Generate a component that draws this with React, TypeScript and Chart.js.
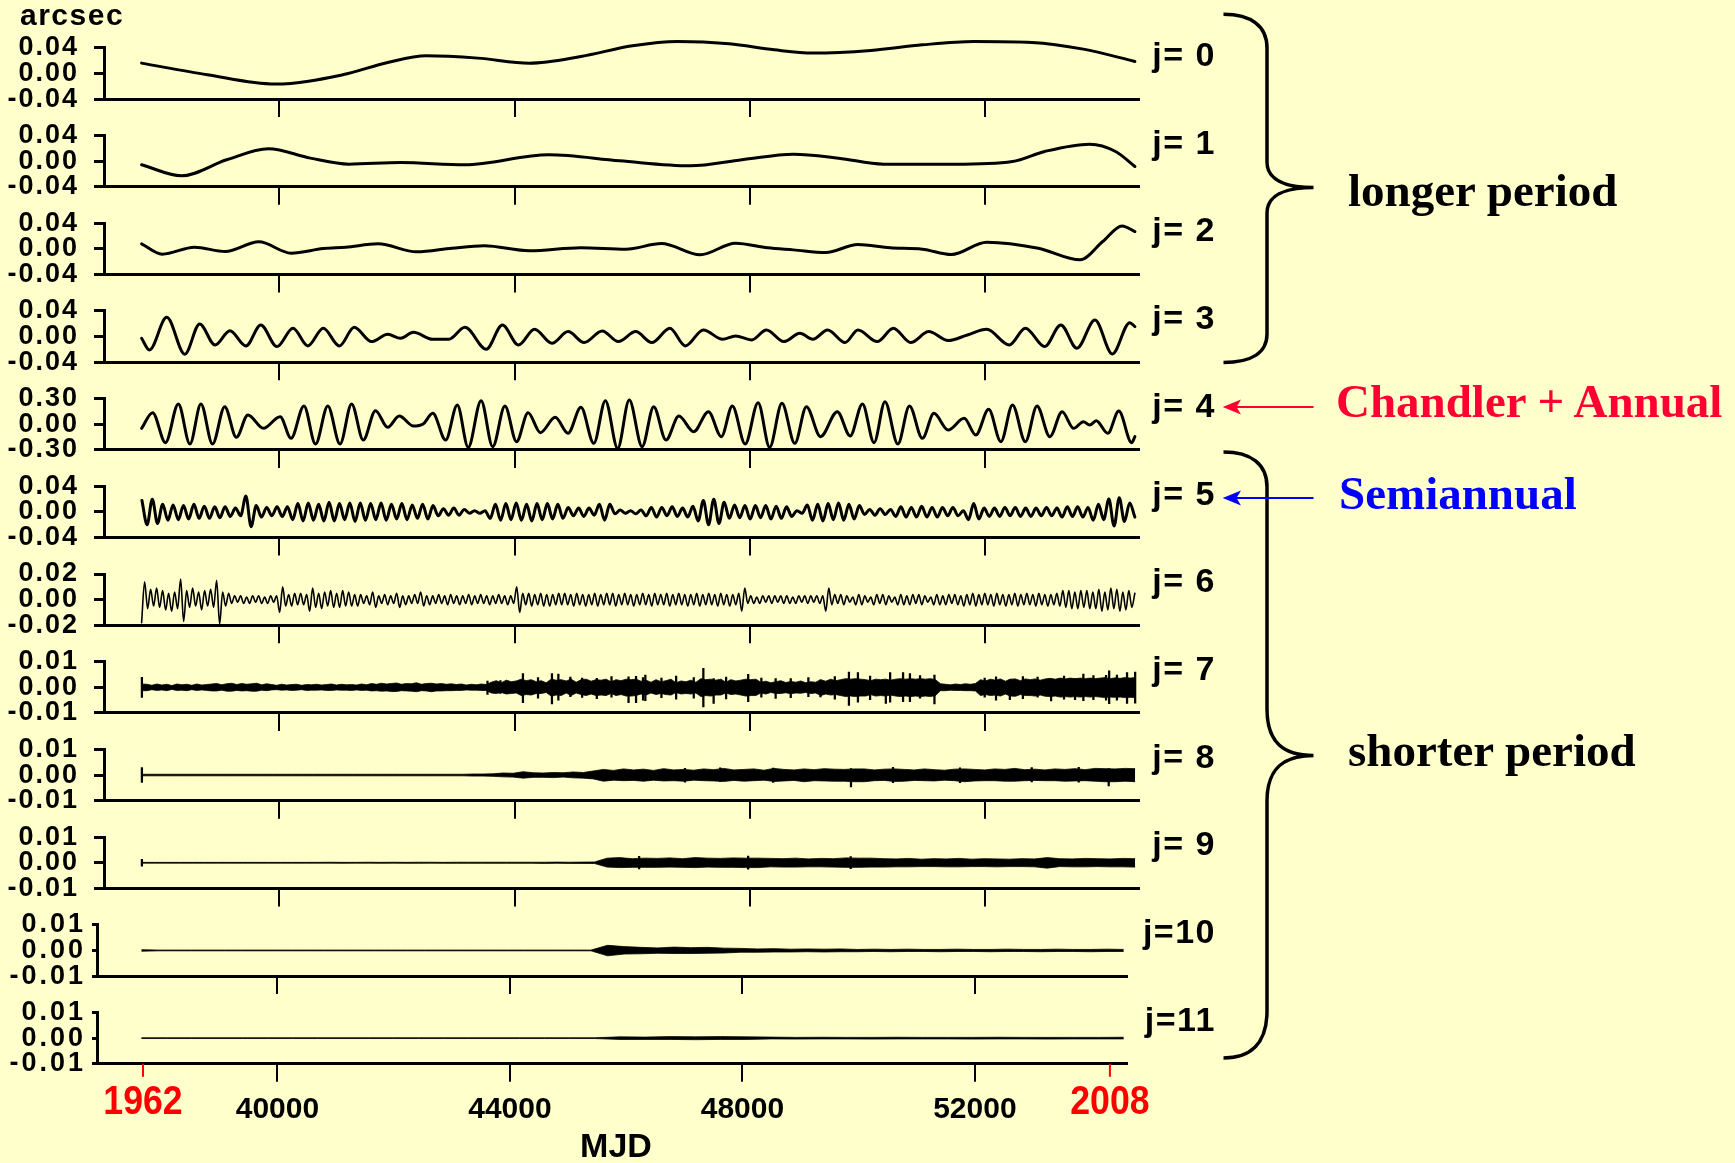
import React, { useEffect, useRef } from 'react';
import { Chart, registerables } from 'chart.js';

Chart.register(...registerables);

const PAGE_W = 1735;
const PAGE_H = 1163;
const BG = '#FFFFCC';
const SANS = "'Liberation Sans', Arial, Helvetica, sans-serif";
const SERIF = "'Liberation Serif', 'Times New Roman', Times, serif";
Chart.defaults.font.family = SANS;

// ---------------- axis content ----------------
const X_TICKS = [40000, 44000, 48000, 52000];
const X_TITLE = 'MJD';
const YEAR_MARKS = [
  { mjd: 37686, label: '1962' },
  { mjd: 54323, label: '2008' },
];
const PANEL_NAMES = ['j= 0', 'j= 1', 'j= 2', 'j= 3', 'j= 4', 'j= 5', 'j= 6', 'j= 7', 'j= 8', 'j= 9', 'j=10', 'j=11'];
const Y_LIMITS = [0.04, 0.04, 0.04, 0.04, 0.3, 0.04, 0.02, 0.01, 0.01, 0.01, 0.01, 0.01];
const MAS = 0.001; // values below are in milliarcseconds

// ---------------- series (values in mas) ----------------
const J0_MJD = [37655, 38773, 39924, 41075, 41842, 42500, 43376, 44253, 45130, 46007, 46774, 47651, 48418, 49076, 50062, 50939, 51816, 52802, 53679, 54556];
const J0_VAL = [16.1, -2.1, -16.6, -2.1, 17.1, 27.5, 23.9, 16.1, 26.5, 43.1, 49.8, 46.2, 36.8, 31.7, 35.8, 44.6, 49.8, 48.3, 37.9, 18.7];

const J1_MJD = [37655, 38335, 39102, 39814, 40527, 41184, 42061, 43157, 44582, 45788, 46993, 47870, 48747, 49514, 50281, 51487, 52473, 53021, 53788, 54227, 54556];
const J1_VAL = [-5.7, -22.8, 2.1, 19.2, 4.7, -4.7, -2.1, -5.7, 9.9, 0.5, -7.3, 2.1, 10.9, 4.7, -4.7, -4.7, -0.5, 15.1, 26.5, 15.1, -8.3];

const J2_MJD = [37655, 38006, 38554, 39080, 39650, 40198, 40746, 41130, 41678, 42335, 42938, 43486, 44253, 45130, 45897, 46500, 47158, 47760, 48308, 48747, 49295, 49843, 50391, 50939, 51432, 52035, 52912, 53624, 54008, 54337, 54556];
const J2_VAL = [7.8, -8.3, 2.6, -4.2, 10.9, -6.7, 0.5, 2.6, 7.8, -4.7, 1.0, 4.7, -3.1, 1.6, -0.5, 8.3, -9.3, 8.8, 1.6, -1.6, -5.7, 6.7, 1.6, -0.5, -8.8, 10.4, 1.0, -17.1, 11.4, 35.8, 27.0];

const J3_MJD = [37655, 37787, 38083, 38390, 38642, 38905, 39157, 39431, 39683, 39957, 40231, 40483, 40746, 41020, 41272, 41568, 41842, 42061, 42280, 42609, 42883, 43157, 43519, 43793, 44067, 44341, 44637, 44911, 45185, 45492, 45766, 46062, 46336, 46643, 46906, 47212, 47541, 47760, 48034, 48286, 48582, 48856, 49076, 49328, 49624, 49843, 50172, 50446, 50742, 51048, 51377, 51706, 52035, 52418, 52692, 53021, 53295, 53569, 53876, 54172, 54468, 54556];
const J3_VAL = [-2.7, -20.9, 30.0, -27.6, 19.6, -13.1, 9.2, -14.6, 18.1, -15.7, 12.9, -14.6, 12.9, -14.6, 14.4, -7.9, 3.5, -2.7, 6.6, -4.3, -4.3, 14.4, -19.8, 18.1, -13.1, 11.3, -10.5, 7.7, -9.4, 8.7, -7.9, 7.7, -9.4, 12.9, -14.6, 10.3, -4.3, 0.9, -5.3, 10.3, -7.9, 5.1, -4.3, 10.3, -9.4, 10.3, -7.9, 12.9, -9.4, 7.7, -6.3, 2.5, 11.3, -13.1, 12.9, -15.7, 18.1, -18.3, 25.8, -27.1, 21.7, 15.5];

const J4_MJD = [37655, 37842, 38061, 38280, 38477, 38664, 38861, 39069, 39266, 39464, 39727, 40012, 40198, 40417, 40614, 40823, 41031, 41228, 41426, 41634, 41842, 42039, 42280, 42445, 42609, 42828, 43026, 43212, 43431, 43629, 43837, 44034, 44231, 44440, 44692, 44911, 45130, 45349, 45546, 45755, 45952, 46171, 46368, 46577, 46796, 47048, 47300, 47519, 47706, 47925, 48144, 48341, 48550, 48769, 48966, 49207, 49492, 49711, 49920, 50117, 50303, 50522, 50720, 50939, 51136, 51377, 51651, 51848, 52068, 52276, 52473, 52692, 52890, 53109, 53317, 53514, 53679, 53788, 53898, 54095, 54282, 54501, 54556];
const J4_VAL = [-48, 135, -215, 237, -231, 237, -231, 206, -153, 108, -48, 89, -165, 213, -231, 213, -231, 237, -184, 159, -36, 96, -21, 3, 128, -184, 225, -270, 276, -262, 213, -204, 135, -98, 81, -106, 198, -223, 276, -282, 283, -262, 206, -184, 96, -87, 147, -145, 213, -231, 252, -270, 245, -223, 206, -145, 147, -137, 237, -215, 264, -231, 213, -165, 128, -67, 69, -126, 174, -204, 225, -204, 213, -145, 147, -48, 30, -9, 42, -106, 155, -215, -145];

// j=5 semiannual: successive extrema, evenly spaced in time
const J5_START = 37660;
const J5_END = 54555;
const J5_VAL = [
  18, -20, 20, -18,
  12, -13, 11, -12, 10, -11, 12, -10, 9, -10, 8, -9, 8,
  -7, 6, -6,
  25, -23,
  10, -8, 7, -6, 8, -7, 8,
  -12, 13, -14, 14, -13, 12, -14, 15, -14, 13, -12, 14, -15, 14, -13,
  13, -12, 14, -13, 12, -11, 13, -12, 11, -10, 12, -11, 10,
  -6, 5, -5, 6, -5, 4,
  -2, 2, -2, 2,
  -10, 12, -13, 13, -12, 14, -13, 12, -14, 13, -12, 13, -11, 12, -10,
  7, -6, 6, -7, 6, -5,
  12, -13, 12,
  -3, 3, -2, 2, -3, 3,
  -6, 7, -8, 7, -6, 8, -7, 6, -8, 9,
  -14, 18, -20, 20, -18, 15,
  -10, 11, -9, 10, -11, 10, -9, 10, -11, 9, -10, 8, -7,
  2, -2,
  11, -13, 12, -14, 13, -12, 14, -13, 12, -11, 10,
  -4, 4, -5, 5, -4, 4,
  -7, 8, -8, 7, -8, 9, -8, 7, -8, 7, -6, 7, -6,
  2,
  -12, 13, -11,
  6, -7, 6, -7, 7, -6, 7, -7, 6, -7, 6, -6, 7, -6, 6,
  -8, 8, -7, 8, -8, 7,
  -13, 12, -12,
  20, -22, 22,
  -15, 14, -8,
];

// j=6: successive extrema, evenly spaced in time
const J6_START = 37655;
const J6_END = 54555;
const J6_VAL = [
  -18, 14,
  -7, 8, -5, 9, -6, 7, -8, 5, -9, 6, -7,
  16, -17,
  7, -6, 9, -5, 6, -8, 7, -5, 8, -6,
  15, -19,
  6, -5, 5,
  -3, 3, -2, 3, -3, 2, -3, 3, -2, 3, -3, 2, -3, 3, -2, 3,
  -10, 10,
  -5, 4, -5, 5, -4, 5, -4, 4,
  -9, 9,
  -6, 5, -7, 6, -5, 7, -6, 5, -6, 7, -5, 6, -5, 4, -5,
  4, -3, 3, -4, 6, -6, 3, -3, 4, -4, 3, -3, 5, -6, 3, -4, 3, -3, 4, -3, 6, -5, 3,
  -4, 3, -3, 4, -3, 3, -4, 4, -3, 3, -4, 3, -3, 4, -4, 3, -3, 4, -3, 3, -4, 3, -3, 4, -3, 3, -4, 3, -3,
  10, -10,
  5, -4, 5, -5, 4, -4, 5, -5, 4, -5, 4, -4, 5,
  -4, 5, -4, 4, -5, 5, -4, 4, -5, 4, -4, 5, -5, 4, -4, 5, -4, 5, -5, 4, -4, 5, -4,
  4, -5, 4, -4, 5, -4, 4, -5, 5, -4, 4, -4, 5, -5, 4, -4, 5, -4, 4, -5, 4, -4, 5, -5, 4, -4, 5, -4, 4, -5, 5, -4, 4, -5, 4, -4, 5,
  -9, 9,
  -3, 3, -3, 2, -3, 3, -2, 3, -3, 3, -2, 3, -3, 3, -3, 2, -3, 3, -2, 3, -3, 3, -2, 3, -3, 3,
  -9, 9,
  -4, 4, -3, 4, -4, 3, -2, 2, -4, 4, -4, 3, -2, 2, -4, 4, -3, 4, -4, 3, -2, 2,
  -4, 4, -4, 3, -4, 4, -3, 4, -4, 3, -2, 2, -4, 4, -4, 3, -4, 4, -3, 4, -4, 3,
  -5, 4, -4, 5, -5, 4, -4, 5, -4, 4, -5, 5, -4, 4, -5, 4, -4, 5, -5, 4, -4, 5, -4, 4, -5, 5, -4, 4, -5, 4, -4, 5, -5,
  7, -6, 7, -7, 6, -7, 7, -6, 7, -7, 6,
  -7, 8, -9, 6, -8, 9, -7, 8, -9, 6, -8, 7, -6, 5,
];

// j=7..11: upper / lower envelopes of the dense oscillation core, evenly spaced in time
const BAND_START = 37660;
const BAND_END = 54560;
const J7_UP = [
  1.3, 1.2, 0.8, 1.3, 0.9, 1.2, 0.7, 1.3, 1.0, 1.2,
  0.8, 1.3, 0.9, 1.1, 1.3, 1.5, 1.0, 1.4, 1.6, 1.1,
  1.5, 1.2, 1.4, 1.6, 1.0, 1.4, 1.1, 0.8, 1.2, 0.9,
  1.1, 1.2, 0.8, 1.1, 1.0, 1.2, 0.9, 1.1, 1.3, 0.9,
  1.2, 1.0, 1.1, 0.9, 1.3, 1.0, 1.5, 1.2, 1.6, 1.3,
  1.5, 1.7, 1.2, 1.5, 1.4, 1.8, 1.2, 1.5, 1.6, 1.3,
  1.5, 1.2, 1.4, 1.1, 1.3, 0.9, 1.2, 1.0, 1.3, 1.1,
  2.0, 2.6, 1.8, 2.8, 2.2, 2.5, 3.2, 2.6, 3.0, 2.2,
  2.6, 1.8, 3.2, 2.8, 3.0, 2.5, 3.2, 2.0, 3.0, 3.2,
  2.4, 3.0, 2.8, 3.2, 2.2, 3.0, 2.6, 3.2, 3.0, 3.2,
  2.4, 2.8, 2.0, 3.0, 2.2, 2.6, 3.2, 1.8, 2.5, 2.2,
  2.8, 2.0, 3.4, 3.0, 3.2, 2.8, 3.2, 2.0, 3.0, 2.5,
  2.8, 3.2, 3.0, 3.2, 2.0, 2.4, 1.8, 2.2, 2.6, 1.9,
  2.3, 2.0, 2.5, 1.8, 2.2, 2.0, 3.0, 2.4, 3.2, 2.6,
  3.0, 3.4, 3.2, 3.4, 3.2, 3.0, 2.6, 3.2, 3.0, 3.2,
  2.8, 3.2, 3.4, 3.2, 3.4, 3.2, 3.4, 3.2, 3.4, 3.0,
  1.4, 1.2, 1.0, 1.3, 1.1, 1.4, 1.2, 1.5, 3.0, 2.5,
  3.2, 2.8, 3.3, 2.4, 3.2, 3.3, 2.6, 3.3, 3.0, 3.3,
  2.8, 3.3, 3.5, 3.2, 3.6, 3.3, 3.6, 3.4, 3.6, 3.4,
  3.6, 3.4, 3.6, 3.8, 3.4, 3.7, 3.5, 3.8, 3.6, 3.8,
];
const J7_LO = [
  -1.3, -1.3, -0.9, -1.2, -1.0, -1.3, -0.8, -1.2, -1.1, -1.3,
  -0.9, -1.2, -1.0, -1.2, -1.4, -1.4, -1.1, -1.5, -1.5, -1.2,
  -1.4, -1.3, -1.5, -1.5, -1.1, -1.3, -1.0, -0.9, -1.1, -1.0,
  -1.2, -1.1, -0.9, -1.2, -1.1, -1.1, -1.0, -1.2, -1.2, -1.0,
  -1.1, -1.1, -1.2, -1.0, -1.2, -1.1, -1.4, -1.3, -1.5, -1.4,
  -1.6, -1.6, -1.3, -1.4, -1.5, -1.7, -1.3, -1.4, -1.7, -1.4,
  -1.4, -1.3, -1.3, -1.2, -1.2, -1.0, -1.1, -1.1, -1.2, -1.2,
  -2.2, -2.4, -2.0, -2.6, -2.4, -2.2, -3.2, -2.8, -3.0, -2.4,
  -2.4, -2.0, -3.4, -3.0, -3.2, -2.2, -3.2, -2.2, -2.8, -3.2,
  -2.6, -3.2, -3.0, -3.2, -2.4, -3.2, -2.8, -3.4, -3.4, -3.2,
  -2.6, -3.0, -2.2, -2.8, -2.4, -2.8, -3.0, -2.0, -2.6, -2.4,
  -2.6, -2.2, -3.6, -3.2, -3.4, -3.0, -3.0, -2.2, -2.8, -2.6,
  -3.0, -3.4, -3.2, -3.2, -2.2, -2.6, -2.0, -2.4, -2.4, -2.1,
  -2.5, -2.2, -2.3, -2.0, -2.4, -2.2, -3.2, -2.6, -3.0, -2.8,
  -3.2, -3.6, -3.4, -3.6, -3.4, -3.4, -2.8, -3.4, -3.2, -3.4,
  -3.0, -3.4, -3.6, -3.4, -3.6, -3.4, -3.6, -3.4, -3.6, -3.2,
  -1.3, -1.3, -1.1, -1.2, -1.2, -1.3, -1.3, -1.4, -3.2, -2.8,
  -3.2, -3.0, -3.4, -2.6, -3.4, -3.5, -2.8, -3.2, -3.2, -3.4,
  -3.0, -3.5, -3.6, -3.4, -3.8, -3.6, -3.8, -3.6, -3.8, -3.6,
  -3.8, -3.6, -3.8, -4.0, -3.8, -3.9, -3.8, -4.0, -3.9, -4.0,
];
// isolated spikes of j=7 (time, top, bottom)
const J7_SPIKE_MJD = [37660, 43540, 43760, 44143, 44400, 44637, 44746, 44950, 45150, 45400, 45650, 45940, 46068, 46187, 46226, 46500, 46750, 47050, 47213, 47388, 47600, 47976, 48200, 48443, 48700, 49000, 49205, 49450, 49690, 49843, 50050, 50318, 50391, 50611, 50728, 50900, 51145, 52000, 52193, 52428, 52650, 52900, 53130, 53350, 53537, 53679, 53850, 54065, 54118, 54250, 54422, 54560];
const J7_SPIKE_TOP = [3.9, 2.4, 2.6, 5.4, 3.8, 5.4, 5.2, 4.0, 3.6, 3.5, 4.2, 4.1, 4.3, 3.8, 4.8, 3.6, 4.4, 3.8, 7.4, 3.4, 4.0, 5.1, 3.6, 3.4, 3.4, 3.8, 2.8, 4.2, 6.0, 5.8, 4.4, 2.8, 5.8, 5.8, 5.4, 4.6, 4.8, 3.6, 4.1, 3.0, 4.2, 4.0, 3.0, 4.4, 3.4, 5.2, 4.6, 4.7, 6.4, 4.8, 5.8, 6.0];
const J7_SPIKE_BOT = [-3.9, -2.8, -2.4, -6.0, -4.2, -6.5, -5.0, -3.6, -3.9, -4.4, -3.8, -6.0, -6.0, -5.0, -5.2, -4.0, -4.6, -4.2, -7.6, -6.3, -4.5, -5.6, -3.8, -4.3, -4.0, -3.6, -3.7, -4.6, -7.0, -5.8, -4.8, -6.3, -5.8, -5.6, -5.6, -4.2, -6.5, -3.8, -5.0, -4.8, -4.4, -3.8, -5.3, -4.6, -4.8, -5.2, -4.8, -5.0, -6.4, -5.0, -6.3, -6.2];

const J8_UP = [
  0.3, 0.3, 0.3, 0.3, 0.3, 0.3, 0.3, 0.3, 0.3, 0.3,
  0.3, 0.3, 0.3, 0.3, 0.3, 0.3, 0.3, 0.3, 0.3, 0.3,
  0.3, 0.3, 0.3, 0.3, 0.3, 0.3, 0.3, 0.3, 0.3, 0.3,
  0.3, 0.3, 0.3, 0.4, 0.4, 0.5, 0.8, 0.7, 1.3, 0.9,
  0.8, 1.0, 0.9, 1.2, 1.0, 1.6, 2.2, 1.8, 2.4, 2.0,
  2.3, 1.8, 2.5, 2.0, 2.2, 1.9, 2.4, 2.1, 2.6, 2.0,
  2.2, 2.4, 1.9, 2.6, 2.2, 2.0, 2.4, 2.1, 2.5, 2.3,
  2.2, 2.4, 2.4, 2.0, 2.3, 2.4, 2.2, 2.0, 2.4, 2.1,
  1.9, 2.3, 2.4, 2.2, 2.0, 2.4, 2.2, 2.6, 2.1, 2.3,
  2.0, 2.4, 2.2, 2.5, 2.1, 2.6, 2.5, 2.4, 2.6, 2.5,
];
const J8_LO = [
  -0.3, -0.3, -0.3, -0.3, -0.3, -0.3, -0.3, -0.3, -0.3, -0.3,
  -0.3, -0.3, -0.3, -0.3, -0.3, -0.3, -0.3, -0.3, -0.3, -0.3,
  -0.3, -0.3, -0.3, -0.3, -0.3, -0.3, -0.3, -0.3, -0.3, -0.3,
  -0.3, -0.3, -0.3, -0.4, -0.4, -0.5, -0.7, -0.8, -1.2, -0.9,
  -0.9, -1.0, -0.8, -1.1, -1.2, -1.5, -2.4, -2.0, -2.2, -2.1,
  -2.4, -2.0, -2.3, -2.2, -2.4, -2.0, -2.2, -2.3, -2.5, -2.1,
  -2.4, -2.2, -2.0, -2.5, -2.3, -2.1, -2.6, -2.2, -2.3, -2.4,
  -2.4, -2.6, -2.6, -2.2, -2.1, -2.5, -2.4, -2.1, -2.2, -2.3,
  -2.0, -2.2, -2.6, -2.3, -2.2, -2.2, -2.4, -2.4, -2.2, -2.1,
  -2.2, -2.2, -2.4, -2.3, -2.2, -2.4, -2.6, -2.6, -2.4, -2.6,
];
const J8_SPIKE_MJD = [37660, 46900, 47500, 48400, 49725, 50440, 51580, 52800, 53600, 54110];
const J8_SPIKE_TOP = [2.9, 2.6, 2.8, 2.7, 2.5, 3.0, 2.8, 2.9, 3.0, 2.5];
const J8_SPIKE_BOT = [-2.9, -2.8, -2.6, -2.9, -4.6, -3.0, -3.0, -2.7, -2.8, -4.2];

const J9_UP = [
  0.15, 0.15, 0.15, 0.15, 0.15, 0.15, 0.15, 0.15, 0.15, 0.15,
  0.15, 0.15, 0.15, 0.15, 0.15, 0.2, 0.15, 0.15, 0.2, 0.15,
  0.2, 0.15, 0.2, 0.2, 0.15, 0.2, 0.2, 0.2, 0.2, 0.2,
  0.2, 0.2, 0.2, 0.25, 0.2, 0.25, 0.3, 1.8, 2.0, 1.6,
  1.8, 1.7, 1.9, 1.6, 2.0, 1.8, 1.7, 1.9, 1.8, 1.8,
  1.7, 1.6, 1.8, 1.5, 1.7, 1.6, 1.9, 1.8, 1.8, 1.6,
  1.5, 1.7, 1.4, 1.6, 1.5, 1.7, 1.4, 1.6, 1.5, 1.4,
  1.6, 1.5, 2.0, 1.6, 1.5, 1.7, 1.6, 1.5, 1.7, 1.6,
];
const J9_LO = [
  -0.15, -0.15, -0.15, -0.15, -0.15, -0.15, -0.15, -0.15, -0.15, -0.15,
  -0.15, -0.15, -0.15, -0.15, -0.15, -0.15, -0.2, -0.15, -0.15, -0.2,
  -0.15, -0.2, -0.2, -0.15, -0.2, -0.2, -0.2, -0.2, -0.2, -0.2,
  -0.2, -0.2, -0.25, -0.2, -0.25, -0.25, -0.3, -1.7, -1.9, -1.8,
  -1.8, -1.8, -1.7, -1.8, -1.9, -1.7, -1.8, -1.8, -1.9, -1.9,
  -1.6, -1.7, -1.7, -1.6, -1.6, -1.7, -1.8, -1.8, -1.7, -1.7,
  -1.6, -1.6, -1.5, -1.5, -1.6, -1.6, -1.5, -1.5, -1.6, -1.5,
  -1.5, -1.6, -2.1, -1.5, -1.6, -1.6, -1.5, -1.6, -1.6, -1.7,
];
const J9_SPIKE_MJD = [37660, 46120, 47975, 49720];
const J9_SPIKE_TOP = [1.3, 2.5, 2.6, 2.4];
const J9_SPIKE_BOT = [-1.3, -2.4, -2.5, -2.3];

const J10_UP = [
  0.3, 0.15, 0.15, 0.15, 0.15, 0.15, 0.15, 0.15, 0.15, 0.15,
  0.15, 0.15, 0.15, 0.15, 0.15, 0.15, 0.15, 0.15, 0.15, 0.15,
  0.15, 0.15, 0.15, 0.15, 0.15, 0.15, 0.15, 0.15, 2.0, 1.5,
  1.2, 1.0, 1.3, 1.1, 1.2, 0.9, 0.8, 0.6, 0.7, 0.5,
  0.6, 0.5, 0.6, 0.4, 0.5, 0.4, 0.5, 0.4, 0.4, 0.5,
  0.4, 0.4, 0.5, 0.4, 0.4, 0.5, 0.4, 0.4, 0.5, 0.4,
];
const J10_LO = [
  -0.3, -0.15, -0.15, -0.15, -0.15, -0.15, -0.15, -0.15, -0.15, -0.15,
  -0.15, -0.15, -0.15, -0.15, -0.15, -0.15, -0.15, -0.15, -0.15, -0.15,
  -0.15, -0.15, -0.15, -0.15, -0.15, -0.15, -0.15, -0.15, -2.1, -1.4,
  -1.3, -1.1, -1.2, -1.2, -1.1, -1.0, -0.7, -0.7, -0.6, -0.6,
  -0.5, -0.6, -0.5, -0.5, -0.4, -0.5, -0.4, -0.4, -0.5, -0.4,
  -0.4, -0.5, -0.4, -0.4, -0.5, -0.4, -0.4, -0.5, -0.4, -0.4,
];
const J11_UP = [
  0.15, 0.15, 0.15, 0.15, 0.15, 0.15, 0.15, 0.15, 0.15, 0.15,
  0.15, 0.15, 0.15, 0.15, 0.15, 0.15, 0.15, 0.15, 0.15, 0.5,
  0.4, 0.6, 0.5, 0.6, 0.5, 0.4, 0.3, 0.35, 0.3, 0.3,
  0.35, 0.3, 0.3, 0.3, 0.35, 0.3, 0.3, 0.3, 0.3, 0.35,
];
const J11_LO = [
  -0.15, -0.15, -0.15, -0.15, -0.15, -0.15, -0.15, -0.15, -0.15, -0.15,
  -0.15, -0.15, -0.15, -0.15, -0.15, -0.15, -0.15, -0.15, -0.15, -0.5,
  -0.5, -0.5, -0.6, -0.5, -0.5, -0.3, -0.35, -0.3, -0.3, -0.35,
  -0.3, -0.3, -0.3, -0.35, -0.3, -0.3, -0.35, -0.3, -0.3, -0.3,
];

// ---------------- layout ----------------
const AREA_TOP0 = 47.8;
const PITCH = 87.7;
const AREA_H = 51.3;
const CANVAS_W = 1160;
const AREA_LEFT = [104, 104, 104, 104, 104, 104, 104, 104, 104, 104, 97, 97];
const AREA_RIGHT = [1138.5, 1138.5, 1138.5, 1138.5, 1138.5, 1138.5, 1138.5, 1138.5, 1138.5, 1138.5, 1127, 1127];
const X_MIN = [37015, 37015, 37015, 37015, 37015, 37015, 37015, 37015, 37015, 37015, 36895, 36895];
const X_MAX = 54617;

type Pt = { x: number; y: number };

function pairUp(xs: number[], vals: number[]): Pt[] {
  return vals.map((v, k) => ({ x: xs[k], y: v * MAS }));
}
function evenTimes(start: number, end: number, n: number): number[] {
  const out: number[] = [];
  for (let k = 0; k < n; k++) out.push(start + (k * (end - start)) / (n - 1));
  return out;
}

function lineDataset(points: Pt[], width: number) {
  return {
    type: 'line',
    data: points,
    borderColor: '#000',
    borderWidth: width,
    pointRadius: 0,
    fill: false,
    cubicInterpolationMode: 'monotone',
    clip: false,
    borderJoinStyle: 'round',
    borderCapStyle: 'round',
  };
}

function bandDatasets(up: number[], lo: number[]) {
  const t = evenTimes(BAND_START, BAND_END, up.length);
  return [
    {
      type: 'line',
      data: pairUp(t, up),
      borderColor: '#000',
      backgroundColor: '#000',
      borderWidth: 0.8,
      pointRadius: 0,
      tension: 0,
      fill: '+1',
      clip: false,
    },
    {
      type: 'line',
      data: pairUp(t, lo),
      borderColor: '#000',
      borderWidth: 0.8,
      pointRadius: 0,
      tension: 0,
      fill: false,
      clip: false,
    },
  ];
}

function spikeDataset(mjd: number[], top: number[], bot: number[]) {
  return {
    type: 'bar',
    data: mjd.map((x, k) => ({ x, y: [bot[k] * MAS, top[k] * MAS] })),
    backgroundColor: '#000',
    borderWidth: 0,
    barThickness: 1.6,
    grouped: false,
  };
}

function datasetsFor(i: number): any[] {
  switch (i) {
    case 0: return [lineDataset(pairUp(J0_MJD, J0_VAL), 3)];
    case 1: return [lineDataset(pairUp(J1_MJD, J1_VAL), 3)];
    case 2: return [lineDataset(pairUp(J2_MJD, J2_VAL), 3)];
    case 3: return [lineDataset(pairUp(J3_MJD, J3_VAL), 3)];
    case 4: return [lineDataset(pairUp(J4_MJD, J4_VAL), 3)];
    case 5: return [lineDataset(pairUp(evenTimes(J5_START, J5_END, J5_VAL.length), J5_VAL), 3)];
    case 6: return [lineDataset(pairUp(evenTimes(J6_START, J6_END, J6_VAL.length), J6_VAL), 1.6)];
    case 7: return [...bandDatasets(J7_UP, J7_LO), spikeDataset(J7_SPIKE_MJD, J7_SPIKE_TOP, J7_SPIKE_BOT)];
    case 8: return [...bandDatasets(J8_UP, J8_LO), spikeDataset(J8_SPIKE_MJD, J8_SPIKE_TOP, J8_SPIKE_BOT)];
    case 9: return [...bandDatasets(J9_UP, J9_LO), spikeDataset(J9_SPIKE_MJD, J9_SPIKE_TOP, J9_SPIKE_BOT)];
    case 10: return bandDatasets(J10_UP, J10_LO);
    default: return bandDatasets(J11_UP, J11_LO);
  }
}

function geometry(i: number) {
  const areaTop = AREA_TOP0 + PITCH * i;
  const canvasTop = Math.floor(areaTop) - 24;
  const isLast = i === 11;
  const canvasH = isLast ? PAGE_H - canvasTop : 100;
  const narrow = i >= 10;
  return {
    areaTop,
    canvasTop,
    canvasH,
    padTop: areaTop - canvasTop,
    left: AREA_LEFT[i],
    right: AREA_RIGHT[i],
    xmin: X_MIN[i],
    isLast,
    tickLen: narrow ? 5 : 10,
    labelPad: narrow ? 6 : 15,
    spacing: narrow ? 3 : 2,
  };
}

function PanelChart({ index }: { index: number }) {
  const ref = useRef<HTMLCanvasElement | null>(null);
  const g = geometry(index);

  useEffect(() => {
    const canvas = ref.current;
    if (!canvas) return;
    const lim = Y_LIMITS[index];

    const inkPlugin = {
      id: 'ink' + index,
      beforeDraw(chart: any) {
        chart.ctx.letterSpacing = g.spacing + 'px';
      },
      afterDraw(chart: any) {
        const ctx = chart.ctx;
        ctx.letterSpacing = '0px';
        if (!g.isLast) return;
        const xs = chart.scales.x;
        const area = chart.chartArea;
        const bottom = area.bottom;
        ctx.save();
        ctx.fillStyle = '#000';
        ctx.textAlign = 'center';
        ctx.textBaseline = 'alphabetic';
        ctx.font = `bold 30px ${SANS}`;
        for (const t of xs.ticks) {
          ctx.fillText(String(t.value), xs.getPixelForValue(t.value), bottom + 54.6);
        }
        ctx.font = `bold 34px ${SANS}`;
        ctx.fillText(X_TITLE, (area.left + area.right) / 2 + 4, bottom + 93);
        for (const m of YEAR_MARKS) {
          const px = xs.getPixelForValue(m.mjd);
          ctx.strokeStyle = '#FF0000';
          ctx.lineWidth = 2;
          ctx.beginPath();
          ctx.moveTo(px, bottom);
          ctx.lineTo(px, bottom + 13);
          ctx.stroke();
          ctx.save();
          ctx.translate(px, bottom + 50.6);
          ctx.scale(0.87, 1);
          ctx.fillStyle = '#FF0000';
          ctx.font = `bold 41px ${SANS}`;
          ctx.fillText(m.label, 0, 0);
          ctx.restore();
        }
        ctx.restore();
      },
    };

    const chart = new Chart(canvas, {
      type: 'line',
      data: { datasets: datasetsFor(index) },
      options: {
        animation: false,
        responsive: false,
        devicePixelRatio: 1,
        events: [],
        layout: { padding: { left: 0, top: g.padTop, right: CANVAS_W - g.right, bottom: 0 } },
        plugins: { legend: { display: false }, tooltip: { enabled: false }, title: { display: false } },
        elements: { point: { radius: 0 } },
        scales: {
          x: {
            type: 'linear',
            position: 'bottom',
            offset: false,
            min: g.xmin,
            max: X_MAX,
            afterBuildTicks: (s: any) => {
              s.ticks = X_TICKS.map((v) => ({ value: v }));
            },
            afterFit: (s: any) => {
              s.height = g.canvasH - g.padTop - AREA_H;
              s.paddingLeft = 0;
              s.paddingRight = 0;
              s.paddingTop = 0;
              s.paddingBottom = 0;
            },
            ticks: { display: false, autoSkip: false },
            grid: { display: true, offset: false, drawOnChartArea: false, drawTicks: true, tickLength: 18, lineWidth: 2, color: '#000' },
            border: { display: true, color: '#000', width: 3 },
          },
          y: {
            type: 'linear',
            position: 'left',
            min: -lim,
            max: lim,
            afterBuildTicks: (s: any) => {
              s.ticks = [-lim, 0, lim].map((v) => ({ value: v }));
            },
            afterFit: (s: any) => {
              s.width = g.left;
              s.paddingTop = 0;
              s.paddingBottom = 0;
              s.paddingLeft = 0;
              s.paddingRight = 0;
            },
            ticks: {
              display: true,
              autoSkip: false,
              color: '#000',
              padding: g.labelPad,
              font: { family: SANS, size: 27, weight: 'bold' },
              callback: (v: any) => Number(v).toFixed(2),
            },
            grid: { display: true, drawOnChartArea: false, drawTicks: true, tickLength: g.tickLen, lineWidth: 3, color: '#000' },
            border: { display: true, color: '#000', width: 3 },
          },
        },
      } as any,
      plugins: [inkPlugin],
    } as any);
    return () => chart.destroy();
  }, [index]);

  return (
    <canvas
      ref={ref}
      width={CANVAS_W}
      height={g.canvasH}
      style={{ position: 'absolute', left: 0, top: g.canvasTop, width: CANVAS_W, height: g.canvasH }}
    />
  );
}

function Overlay() {
  const jStyle: React.CSSProperties = { fontFamily: SANS, fontWeight: 'bold', fontSize: 34, letterSpacing: '1.5px' };
  const serif: React.CSSProperties = { fontFamily: SERIF, fontWeight: 'bold', fontSize: 47 };
  return (
    <svg
      width={PAGE_W}
      height={PAGE_H}
      style={{ position: 'absolute', left: 0, top: 0, pointerEvents: 'none' }}
    >
      <text x={20} y={25} style={{ fontFamily: SANS, fontWeight: 'bold', fontSize: 30, letterSpacing: '1.5px' }} fill="#000">
        arcsec
      </text>
      {PANEL_NAMES.map((name, i) => (
        <text key={name} x={1216} y={66 + PITCH * i} textAnchor="end" style={jStyle} fill="#000">
          {name}
        </text>
      ))}
      <path
        d="M1223.5 14.3 C1251 14.3 1267 26 1267 48 L1267 162 C1267 179 1284 187.5 1313.5 187.5 C1284 187.5 1267 196 1267 213 L1267 334 C1267 353 1251 362.5 1223.5 362.5"
        fill="none"
        stroke="#000"
        strokeWidth={3.5}
      />
      <path
        d="M1223.5 452 C1251 452 1267 464 1267 487 L1267 709 C1267 743 1284 755.4 1313.5 755.4 C1284 755.4 1267 768 1267 801 L1267 1011 C1267 1043 1251 1058 1223.5 1058"
        fill="none"
        stroke="#000"
        strokeWidth={3.5}
      />
      <text x={1348} y={206.4} style={serif} fill="#000">longer period</text>
      <text x={1348} y={765.7} style={serif} fill="#000">shorter period</text>
      <line x1={1313.5} y1={407} x2={1236} y2={407} stroke="#FF0033" strokeWidth={2} />
      <polygon points="1222.7,407 1241,399.5 1236.5,407 1241,414.5" fill="#FF0033" />
      <text x={1336} y={417} style={serif} fill="#FF0033">Chandler + Annual</text>
      <line x1={1313.5} y1={498} x2={1236} y2={498} stroke="#0000FF" strokeWidth={2} />
      <polygon points="1222.7,498 1241,490.5 1236.5,498 1241,505.5" fill="#0000FF" />
      <text x={1339} y={509} style={serif} fill="#0000FF">Semiannual</text>
    </svg>
  );
}

export default function App() {
  useEffect(() => {
    document.body.style.margin = '0';
    document.body.style.background = BG;
  }, []);
  const panels = [];
  for (let i = 0; i < PANEL_NAMES.length; i++) panels.push(<PanelChart key={i} index={i} />);
  return (
    <div
      style={{
        position: 'fixed',
        left: 0,
        top: 0,
        width: PAGE_W,
        height: PAGE_H,
        background: BG,
        overflow: 'hidden',
      }}
    >
      {panels}
      <Overlay />
    </div>
  );
}
